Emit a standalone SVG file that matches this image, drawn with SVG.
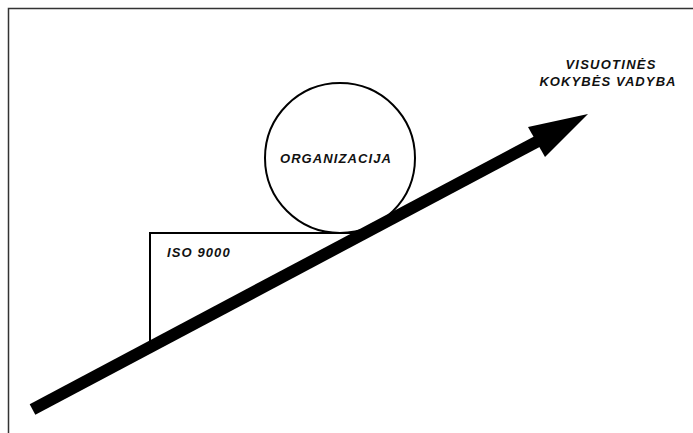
<svg xmlns="http://www.w3.org/2000/svg" width="693" height="433" viewBox="0 0 693 433">
<style>
.ln{fill:none;stroke:#000;stroke-width:2}
.t{font-family:"Liberation Sans",Arial,sans-serif;font-size:13px;font-weight:bold;font-style:italic;fill:#111;letter-spacing:1.1px}
</style>
<rect width="693" height="433" fill="#fff"/>
<path d="M8.5,433 V8.5 H693" fill="none" stroke="#333" stroke-width="1.5"/>
<g id="iso9000">
<path class="ln" d="M150,343 V233 H358"/>
<text class="t" x="167" y="257">ISO 9000</text>
</g>
<g id="organizacija">
<circle class="ln" cx="340" cy="158" r="75"/>
<text class="t" x="336" y="163" text-anchor="middle">ORGANIZACIJA</text>
</g>
<g id="vkv">
<text class="t" x="611" y="69" text-anchor="middle" style="letter-spacing:1.25px">VISUOTINĖS</text>
<text class="t" x="608" y="86" text-anchor="middle">KOKYBĖS VADYBA</text>
</g>
<g id="connectors">
<line x1="32.5" y1="409.5" x2="542" y2="139" stroke="#000" stroke-width="12"/>
<polygon points="588,114 528,127 545,157" fill="#000"/>
</g>
</svg>
